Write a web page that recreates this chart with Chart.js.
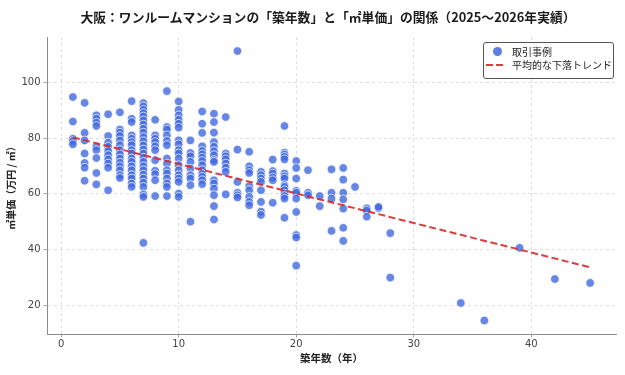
<!DOCTYPE html>
<html>
<head>
<meta charset="utf-8">
<script src="https://cdn.jsdelivr.net/npm/chart.js@4.4.1/dist/chart.umd.min.js"></script>
<style>
html,body{margin:0;padding:0;background:#fff;overflow:hidden;}
#wrap{position:relative;width:625px;height:375px;}
#title{position:absolute;left:28px;width:600px;top:8px;text-align:center;font-weight:bold;font-size:12.8px;font-family:"Noto Sans CJK JP","Noto Sans",sans-serif;color:#1a1a1a;line-height:18px;}
#legend{position:absolute;left:483px;top:42px;width:129px;height:35px;border:1px solid #555;border-radius:3px;background:rgba(255,255,255,0.85);font-family:"Noto Sans CJK JP",sans-serif;font-size:10px;color:#222;}
.row{position:absolute;left:0;height:13px;line-height:13px;white-space:nowrap;}
.row span.t{position:absolute;left:28px;top:0;}
.dot{position:absolute;left:9px;top:2px;width:9px;height:9px;border-radius:50%;background:rgba(65,105,225,0.85);}
.dash{position:absolute;left:2px;top:5.5px;width:20px;height:2px;background:repeating-linear-gradient(90deg,rgba(220,40,40,0.9) 0 7px,transparent 7px 10.5px);}
</style>
</head>
<body>
<div id="wrap">
<canvas id="c" width="625" height="375"></canvas>
<div id="title">大阪：ワンルームマンションの「築年数」と「㎡単価」の関係（2025〜2026年実績）</div>
<div id="legend">
  <div class="row" style="top:2px;width:129px;"><span class="dot"></span><span class="t">取引事例</span></div>
  <div class="row" style="top:15px;width:129px;"><span class="dash"></span><span class="t">平均的な下落トレンド</span></div>
</div>
</div>
<script>
// ---- data ----
const ages = [1,2,3,4,5,6,7,8,9,10,11,12,13,14,15,16,17,18,19,20,21,22,23,24,25,26,27,28,34,36,39,42,45];
const pricesByAge = [
  [94.8,86.0,79.8,78.9,77.8],
  [92.7,81.9,79.2,74.5,71.1,69.4,64.7],
  [88.2,87.0,85.6,84.4,77.0,75.7,72.9,67.5,63.4],
  [88.6,80.8,78.4,76.9,75.4,73.9,72.4,70.9,69.4,61.3],
  [89.3,83.1,82.0,80.8,79.2,77.5,75.7,74.2,72.7,71.2,69.9,68.5,66.7,65.7],
  [93.3,87.0,85.8,81.0,79.8,78.6,77.5,75.7,74.5,72.7,71.5,69.9,68.5,66.7,65.5,63.7,62.5],
  [92.6,91.4,90.2,89.0,87.8,86.4,84.9,83.4,82.0,80.4,78.9,77.4,75.9,74.5,73.0,71.5,69.9,68.5,66.9,65.5,64.0,62.5,59.8,58.9,42.4],
  [86.6,81.0,79.8,78.6,77.1,75.7,72.1,68.3,67.1,64.9,59.2],
  [96.9,84.0,83.1,81.0,79.0,77.5,72.7,70.9,68.5,67.3,65.5,63.7,62.5,59.2],
  [93.2,90.2,88.2,86.6,85.2,83.8,79.2,77.8,75.7,74.5,72.7,70.3,68.5,66.7,65.5,64.3,60.1,58.9],
  [79.2,74.7,73.5,71.5,69.1,66.7,65.5,63.1,50.0],
  [89.6,85.2,81.9,77.1,75.4,74.2,73.0,71.8,70.3,68.5,67.1,66.1,64.9,63.5],
  [88.8,85.8,82.0,78.6,76.9,75.3,73.9,72.1,71.5,64.9,63.7,61.9,59.5,55.6,50.8],
  [87.6,74.5,73.5,72.4,70.9,69.4,67.9,59.8],
  [111.3,75.9,64.3,60.4,59.5,58.7],
  [75.1,69.9,68.5,67.5,62.8,61.3,58.9,57.1,55.9],
  [67.9,66.7,65.5,64.3,61.3,57.1,53.6,52.4],
  [72.3,68.2,67.3,65.9,64.9,56.8],
  [84.4,74.8,74.1,73.3,72.4,67.3,66.3,65.5,63.1,62.5,61.3,60.1,59.2,58.3,51.4],
  [71.8,69.3,65.5,61.1,60.4,58.3,53.5,45.2,44.3,34.2],
  [68.5,60.4,59.5],
  [59.2,55.6],
  [68.8,60.4,58.3,46.7],
  [69.3,65.1,60.4,58.0,54.7,47.8,43.1],
  [62.5],
  [54.8,54.0,51.8],
  [54.8,55.3],
  [45.9,29.9],
  [20.8],
  [14.5],
  [40.6],
  [29.4],
  [28.0]
];
const trendAges = [1, 45];
const trendPrices = [80.3, 33.6];
const xTicks = [0, 10, 20, 30, 40];
const yTicks = [20, 40, 60, 80, 100];
const seriesNames = ['取引事例', '平均的な下落トレンド'];
const xTitle = '築年数（年）';
const yTitle = '㎡単価（万円 / ㎡）';

const points = [];
ages.forEach((a, i) => pricesByAge[i].forEach(p => points.push({x: a, y: p})));
const trend = trendAges.map((a, i) => ({x: a, y: trendPrices[i]}));

const tickFont = {family: 'DejaVu Sans', size: 10};
const gridCol = 'rgba(0,0,0,0.16)';
const axisCol = '#8c8c8c';

new Chart(document.getElementById('c'), {
  type: 'scatter',
  data: {
    datasets: [
      {
        label: seriesNames[0],
        data: points,
        backgroundColor: 'rgba(65,105,225,0.8)',
        borderColor: 'rgba(255,255,255,0.9)',
        borderWidth: 0.8,
        pointRadius: 4.3,
        order: 1
      },
      {
        type: 'line',
        label: seriesNames[1],
        data: trend,
        borderColor: 'rgba(220,40,40,0.9)',
        borderWidth: 2,
        borderDash: [7, 3.5],
        pointRadius: 0,
        fill: false,
        order: 0
      }
    ]
  },
  options: {
    responsive: false,
    animation: false,
    devicePixelRatio: 1,
    layout: {padding: {top: 37, left: 0, right: 9, bottom: 0}},
    plugins: {legend: {display: false}, title: {display: false}, tooltip: {enabled: false}},
    scales: {
      x: {
        type: 'linear',
        min: -1.2, max: 47.2,
        afterBuildTicks: s => { s.ticks = xTicks.map(v => ({value: v})); },
        afterFit: s => { s.height = 41; },
        ticks: {font: tickFont, color: '#444', padding: 1, autoSkip: false, maxRotation: 0},
        grid: {color: gridCol, lineWidth: 0.8, tickLength: 3.5, tickColor: axisCol, tickWidth: 0.8},
        border: {display: true, color: axisCol, width: 1, dash: [3, 3]},
        title: {display: true, text: xTitle, font: {family: 'Noto Sans CJK JP', size: 10.5, weight: 'bold'}, color: '#222', padding: {top: 0, bottom: 11}}
      },
      y: {
        type: 'linear',
        min: 9.65, max: 116.35,
        afterBuildTicks: s => { s.ticks = yTicks.map(v => ({value: v})); },
        afterFit: s => { s.width = 47; },
        ticks: {font: tickFont, color: '#444', padding: 3},
        grid: {color: gridCol, lineWidth: 0.8, tickLength: 3.5, tickColor: axisCol, tickWidth: 0.8},
        border: {display: true, color: axisCol, width: 1, dash: [3, 3]},
        title: {display: true, text: yTitle, font: {family: 'Noto Sans CJK JP', size: 10, weight: 'bold'}, color: '#222', padding: {top: 5, bottom: 0}}
      }
    }
  }
});
</script>
</body>
</html>
